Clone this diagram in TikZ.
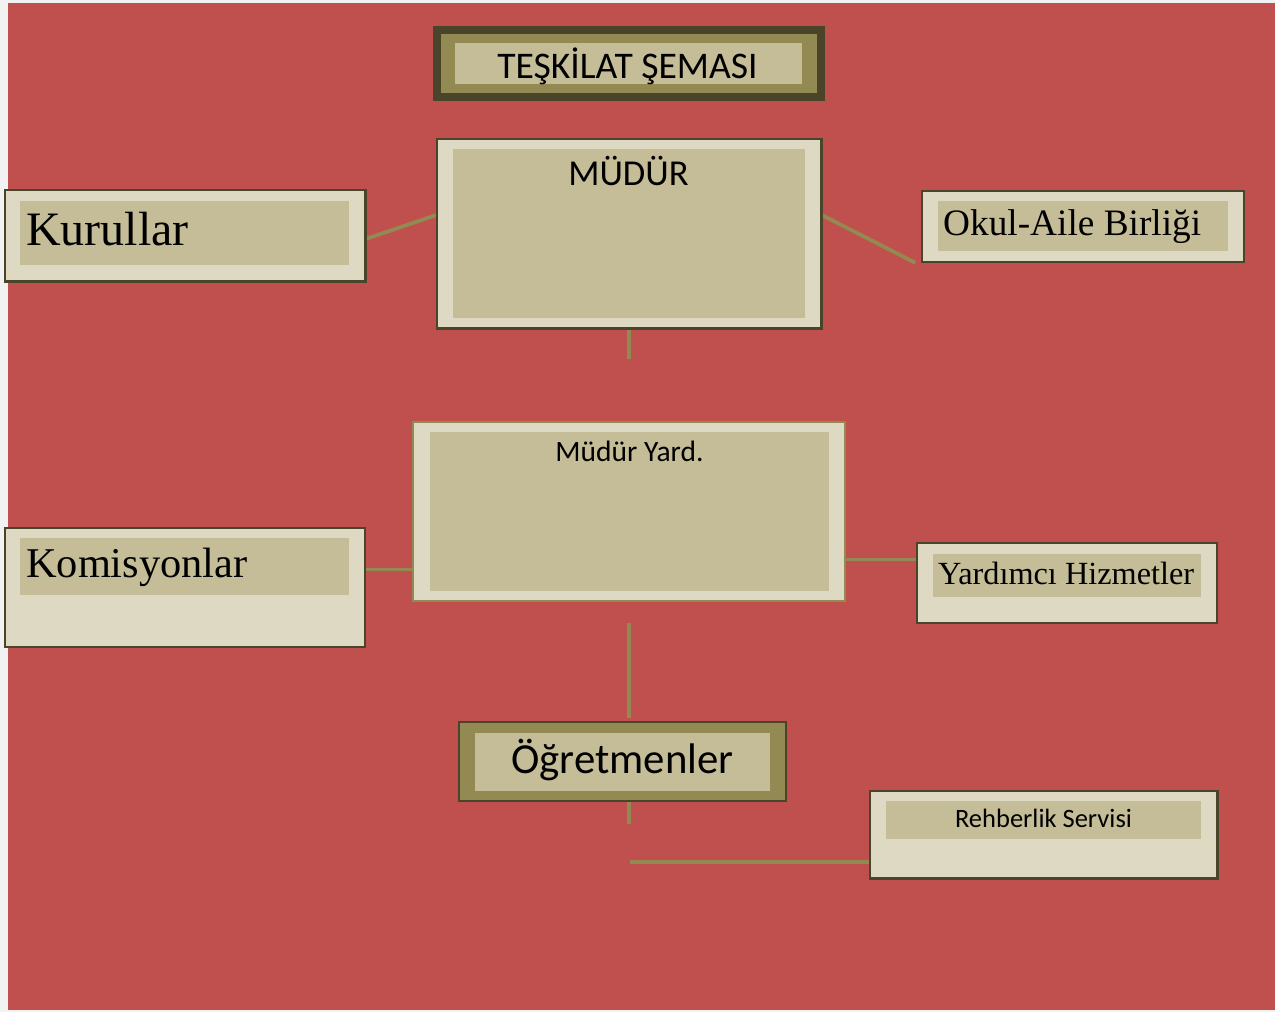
\documentclass[tikz,border=0pt]{standalone}
\usepackage{fontspec}
\setmainfont{Liberation Serif}
\newfontfamily\calfont{Carlito}
\newfontfamily\tmsfont{Liberation Serif}
\definecolor{bgred}{HTML}{C0504D}
\definecolor{light}{HTML}{DDD9C3}
\definecolor{tan}{HTML}{C4BD97}
\definecolor{olive}{HTML}{938953}
\definecolor{darkol}{HTML}{4A452A}
\definecolor{pagegray}{HTML}{F2F2F2}
\tikzset{
  outerbox/.style={draw=darkol, line width=1.5pt, fill=light, inner sep=0pt},
  innerbox/.style={draw=none, fill=tan, inner sep=0pt},
  conn/.style={draw=olive, line width=3.8pt},
  lbl/.style={inner sep=0pt, anchor=base, text=black},
  lblw/.style={inner sep=0pt, anchor=base west, text=black},
}
\begin{document}
\begin{tikzpicture}[x=1pt,y=-1pt]
\fill[pagegray] (0,0) rectangle (1275,1012);
\useasboundingbox (0,0) rectangle (1275,1012);
\fill[bgred] (8,3) rectangle (1275,1010);

% title
\node[fill=darkol, inner sep=0pt, minimum width=392pt, minimum height=75pt] (tout) at (629,63.5) {};
\node[fill=olive, inner sep=0pt, minimum width=376pt, minimum height=59pt] (tmid) at (629,63.5) {};
\node[innerbox, minimum width=347pt, minimum height=41pt] (tin) at (628.5,63.5) {};
\node[lbl, font=\calfont\fontsize{37.6}{41}\selectfont] (ttxt) at (627.5,78) {TEŞKİLAT ŞEMASI};

% MÜDÜR
\node[outerbox, minimum width=384pt, minimum height=189pt] (mud) at (629,233.5) {};
\node[innerbox, minimum width=352pt, minimum height=169pt] (mudin) at (629,233.5) {};
\node[lbl, font=\calfont\fontsize{36.5}{40}\selectfont] (mudtxt) at (628.5,185) {MÜDÜR};

% Kurullar
\node[outerbox, minimum width=360pt, minimum height=91pt] (kur) at (185,235.5) {};
\node[innerbox, minimum width=329pt, minimum height=64pt] (kurin) at (184.5,233) {};
\node[lblw, font=\tmsfont\fontsize{48}{52}\selectfont] (kurtxt) at (26,245) {Kurullar};

% Okul-Aile
\node[outerbox, minimum width=322pt, minimum height=71pt] (okul) at (1083,226.5) {};
\node[innerbox, minimum width=290pt, minimum height=50pt] (okulin) at (1083,226) {};
\node[lblw, font=\tmsfont\fontsize{37.3}{41}\selectfont] (okultxt) at (943,235) {Okul-Aile Birliği};

% Müdür Yard.
\node[outerbox, draw=olive, minimum width=432pt, minimum height=179pt] (myard) at (629,511.5) {};
\node[innerbox, minimum width=399pt, minimum height=159pt] (myardin) at (629.5,511.5) {};
\node[lbl, font=\calfont\fontsize{29.5}{33}\selectfont] (myardtxt) at (629.5,461) {Müdür Yard.};

% Komisyonlar
\node[outerbox, minimum width=360pt, minimum height=119pt] (kom) at (185,587.5) {};
\node[innerbox, minimum width=329pt, minimum height=57pt] (komin) at (184.5,566.5) {};
\node[lblw, font=\tmsfont\fontsize{42.4}{46}\selectfont] (komtxt) at (26,577) {Komisyonlar};

% Yardımcı Hizmetler
\node[outerbox, minimum width=300pt, minimum height=80pt] (yard) at (1067,583) {};
\node[innerbox, minimum width=268pt, minimum height=43pt] (yardin) at (1067,575.5) {};
\node[lblw, font=\tmsfont\fontsize{32.3}{36}\selectfont] (yardtxt) at (938,584) {Yardımcı Hizmetler};

% Öğretmenler
\node[outerbox, fill=olive, minimum width=327pt, minimum height=79pt] (ogr) at (622.5,761.5) {};
\node[innerbox, minimum width=295pt, minimum height=58pt] (ogrin) at (622.5,762) {};
\node[lbl, font=\calfont\fontsize{42.8}{46}\selectfont] (ogrtxt) at (622.5,773) {Öğretmenler};

% Rehberlik Servisi
\node[outerbox, minimum width=347pt, minimum height=87pt] (reh) at (1043.5,834.5) {};
\node[innerbox, minimum width=315pt, minimum height=38pt] (rehin) at (1043.5,820) {};
\node[lbl, font=\calfont\fontsize{26.5}{30}\selectfont] (rehtxt) at (1043.5,827) {Rehberlik Servisi};

% connectors
\coordinate (m1) at (629,359);
\coordinate (v1) at (629,623);
\coordinate (v2) at (629,718);
\coordinate (o1) at (629,824);
\coordinate (h1) at (630,862);
\draw[conn] ([yshift=-3.5pt]kur.east) -- ([yshift=18.5pt]mud.west);
\draw[conn] ([yshift=18.5pt]mud.east) -- ([xshift=-6pt]okul.south west);
\draw[conn] (mud.south -| m1) -- (m1);
\draw[conn] ([yshift=18pt]kom.east) -- ([yshift=18pt]kom.east -| myard.west);
\draw[conn] ([yshift=23.5pt]yard.west) -- ([yshift=23.5pt]yard.west -| myard.east);
\draw[conn] (v1) -- (v2);
\draw[conn] (ogr.south -| o1) -- (o1);
\draw[conn] (h1) -- (h1 -| reh.west);

% redraw boxes' borders over connector ends
\draw[darkol, line width=1.5pt] (kur.south west) rectangle (kur.north east);
\draw[darkol, line width=1.5pt] (mud.south west) rectangle (mud.north east);
\draw[darkol, line width=1.5pt] (reh.south west) rectangle (reh.north east);
\end{tikzpicture}
\end{document}
